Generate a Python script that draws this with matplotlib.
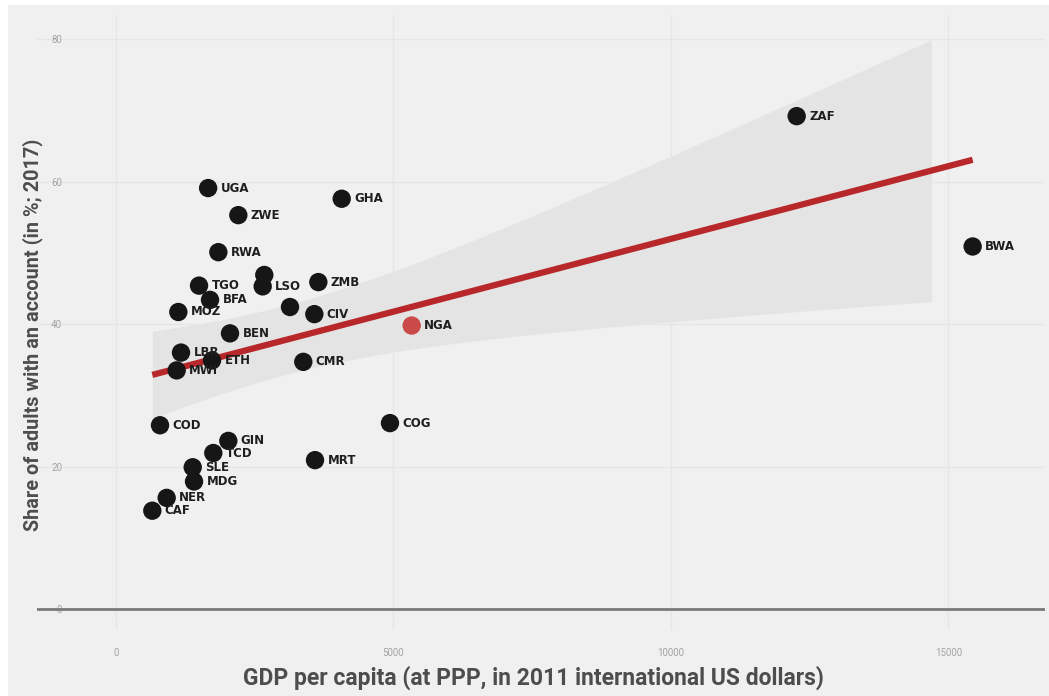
import matplotlib.pyplot as plt
import matplotlib.patches as mpatches
import numpy as np

# countries (empty string = point without label)
codes = ["UGA", "GHA", "ZWE", "RWA", "", "LSO", "ZMB", "TGO", "BFA", "MOZ", "",
         "CIV", "NGA", "BEN", "LBR", "ETH", "MWI", "CMR", "COD", "COG", "GIN",
         "TCD", "MRT", "SLE", "MDG", "NER", "CAF", "ZAF", "BWA"]
gdp = [1660, 4067, 2204, 1844, 2672, 2643, 3646, 1496, 1694, 1123, 3135,
       3574, 5328, 2054, 1171, 1730, 1093, 3375, 793, 4937, 2024,
       1753, 3586, 1382, 1406, 913, 654, 12266, 15437]
account = [59.1, 57.6, 55.3, 50.1, 46.9, 45.3, 45.9, 45.4, 43.4, 41.7, 42.4,
           41.4, 39.8, 38.7, 36.0, 34.9, 33.5, 34.7, 25.8, 26.1, 23.6,
           21.9, 20.9, 19.9, 17.9, 15.6, 13.8, 69.2, 50.9]
highlight = "NGA"

x = np.array(gdp, dtype=float)
y = np.array(account, dtype=float)

plt.rcParams['font.family'] = ['Liberation Sans Narrow', 'Roboto', 'DejaVu Sans']

fig = plt.figure(figsize=(10.49, 6.96), dpi=100)
fig.patch.set_facecolor("white")
fig.patches.append(mpatches.Rectangle((8 / 1049, 0), 1, 1 - 5 / 696, transform=fig.transFigure,
                                      facecolor="#f0f0f0", edgecolor="none", zorder=-10))

ax = fig.add_axes([37 / 1049, 1 - 630 / 696, 1008 / 1049, 615 / 696])
ax.set_facecolor("none")
ax.set_xlim(-1424, 16741)
ax.set_ylim(-2.95, 83.4)

# linear fit + 95% band
b, a = np.polyfit(x, y, 1)
n = len(x)
resid = y - (a + b * x)
s = np.sqrt(np.sum(resid ** 2) / (n - 2))
xm = x.mean()
sxx = np.sum((x - xm) ** 2)
xs = np.linspace(x.min(), x.max(), 200)
fit = a + b * xs
se = s * np.sqrt(1 / n + (xs - xm) ** 2 / sxx)
t = 2.052
band_mask = xs <= 14700
ax.fill_between(xs[band_mask], (fit - t * se)[band_mask], (fit + t * se)[band_mask],
                color="#e4e4e4", lw=0, zorder=1)
ax.plot(xs, fit, color="#b8282a", lw=4.5, solid_capstyle="butt", zorder=3)

ax.axhline(0, color="#7a7a7a", lw=2, zorder=2)

cols = ["#c94a48" if c == highlight else "#161616" for c in codes]
ax.scatter(x, y, s=175, c=cols, edgecolors="none", zorder=4)
for c, xi, yi in zip(codes, x, y):
    if c:
        ax.annotate(c, (xi, yi), xytext=(9, 0), textcoords="offset points",
                    va="center", ha="left", fontsize=8.5, fontweight="bold",
                    family="DejaVu Sans", color="#1e1e1e", zorder=5)

ax.set_xticks([0, 5000, 10000, 15000])
ax.set_yticks([0, 20, 40, 60, 80])
ax.grid(True, color="#e6e6e6", lw=1, zorder=0)
ax.tick_params(length=0, labelsize=7, labelcolor="#a4a4a4")
ax.tick_params(axis="y", pad=-18)
ax.tick_params(axis="x", pad=13)
for sp in ax.spines.values():
    sp.set_visible(False)

fig.text(533 / 1049, 1 - 678 / 696, "GDP per capita (at PPP, in 2011 international US dollars)",
         ha="center", va="center", fontsize=16.5, fontweight="bold", color="#4d4d4d")
fig.text(33 / 1049, 1 - 335 / 696, "Share of adults with an account (in %; 2017)",
         ha="center", va="center", rotation=90, fontsize=14.3, fontweight="bold", color="#4d4d4d")

fig.savefig("out.png", dpi=100, facecolor=fig.get_facecolor())
